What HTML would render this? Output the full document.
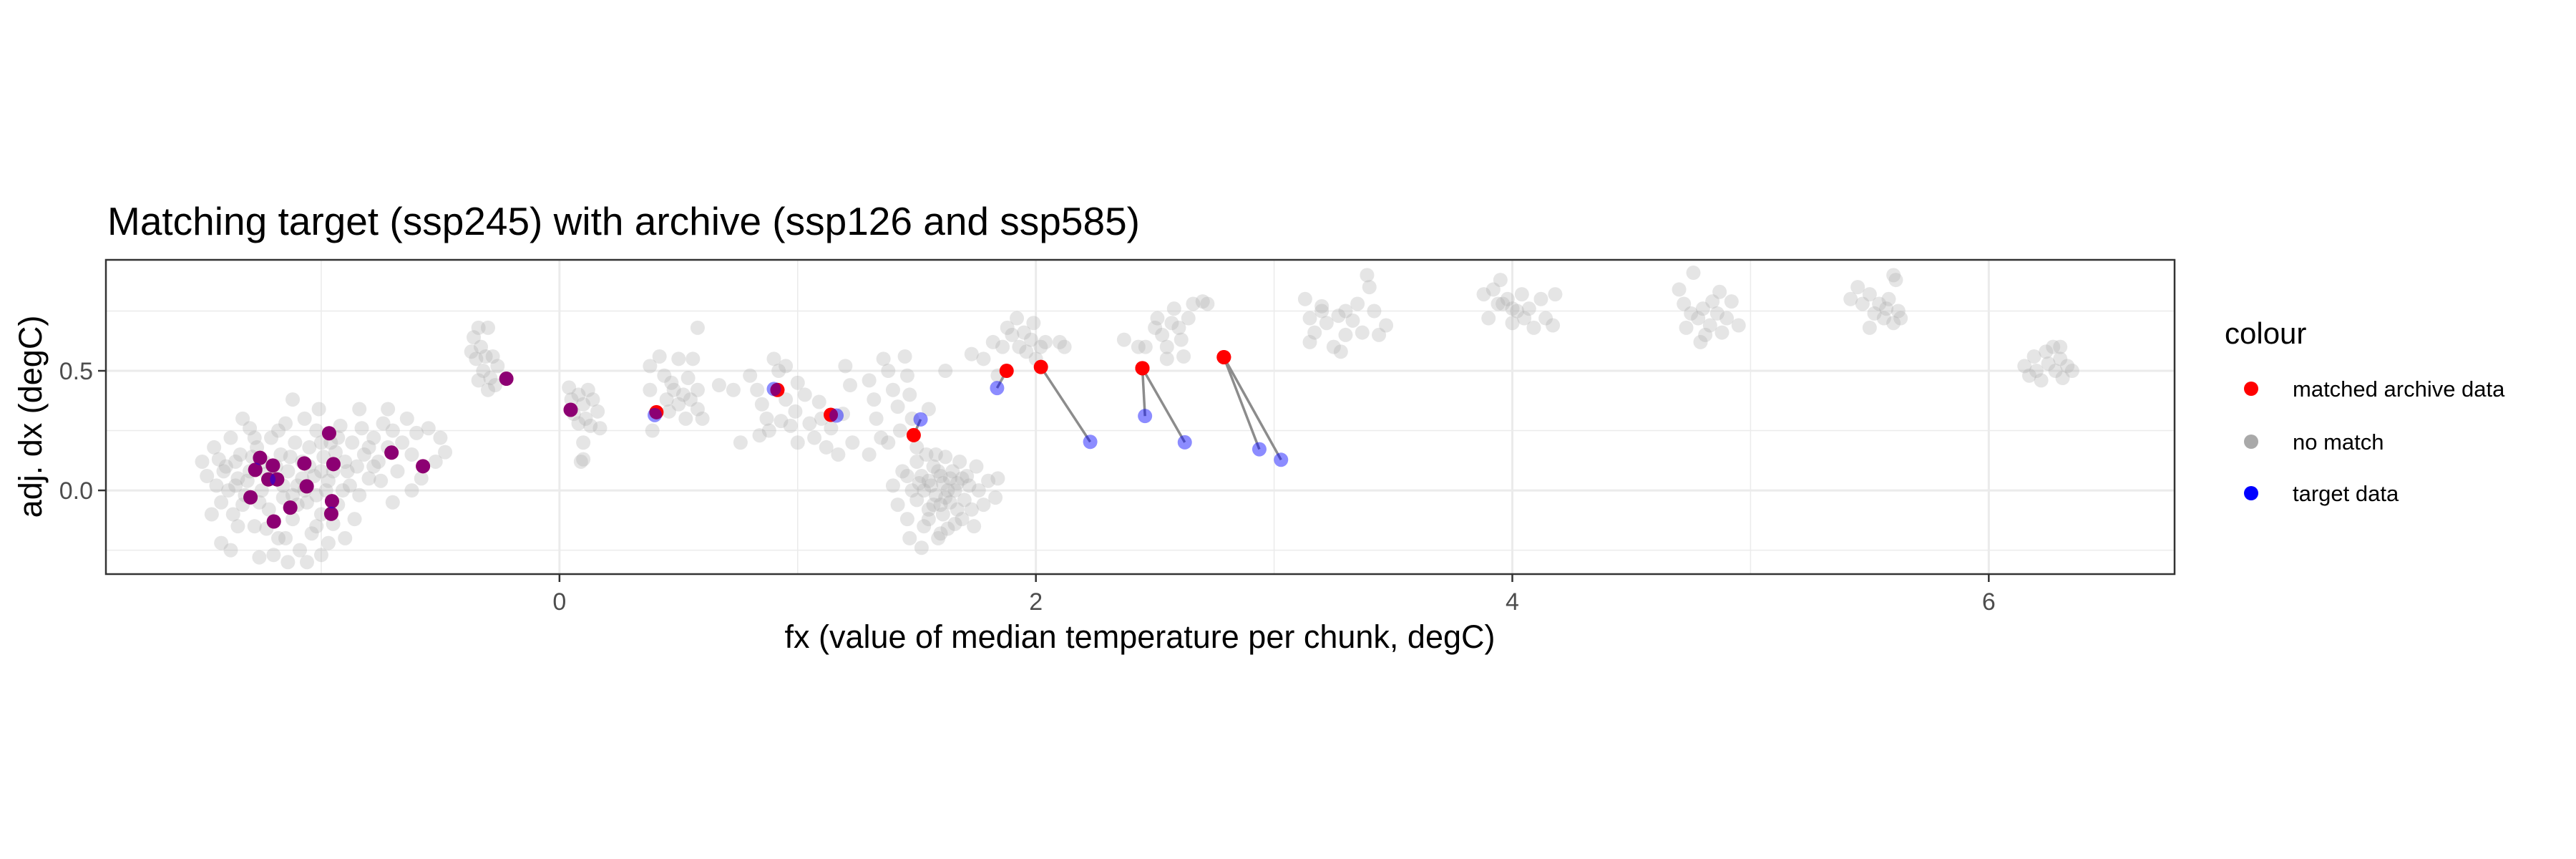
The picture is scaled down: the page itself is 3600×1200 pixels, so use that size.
<!DOCTYPE html>
<html><head><meta charset="utf-8"><style>
html,body{margin:0;padding:0;background:#fff;}
svg{display:block;font-family:"Liberation Sans",Arial,sans-serif;}
</style></head><body>
<svg id="chart" width="3600" height="1200" viewBox="0 0 3600 1200">
<rect width="3600" height="1200" fill="#fff"/>
<text x="150" y="328" font-size="55" fill="#000">Matching target (ssp245) with archive (ssp126 and ssp585)</text>
<g id="grid"></g>
<g id="links"></g>
<g id="points"></g>
<rect x="148" y="363" width="2891" height="439" fill="none" stroke="#333" stroke-width="2.5"/>
<g id="axes"></g>
<text x="1593" y="905" font-size="45" text-anchor="middle" fill="#000">fx (value of median temperature per chunk, degC)</text>
<text transform="translate(58,582) rotate(-90)" font-size="45" text-anchor="middle" fill="#000">adj. dx (degC)</text>
<g id="legend">
<text x="3109" y="480" font-size="42" fill="#000">colour</text>
</g>
</svg>
<script>
const xTicks=[0,2,4,6];
const xMinor=[-1,1,3,5];
const yTicks=[0.0,0.5];
const yMinor=[-0.25,0.25,0.75];
const xTickLabels=["0","2","4","6"];
const yTickLabels=["0.0","0.5"];
const legendLabels=["matched archive data","no match","target data"];
const archiveX=[-1.257,-1.277,-1.203,-1.071,-0.949,-0.967,-1.222,-1.185,-1.061,-1.297,-1.130,-0.955,-0.958,-1.199,-0.705,-0.573,-0.223,0.047,0.407,0.915,1.139,1.487,1.877,2.021,2.447,2.447,2.789,2.789];
const archiveY=[0.136,0.086,0.104,0.113,0.110,0.239,0.046,0.046,0.017,-0.029,-0.072,-0.045,-0.098,-0.130,0.158,0.101,0.467,0.337,0.327,0.420,0.316,0.231,0.500,0.516,0.511,0.511,0.557,0.557];
const targetX=[-1.257,-1.277,-1.203,-1.071,-0.949,-0.967,-1.222,-1.185,-1.061,-1.297,-1.130,-0.955,-0.958,-1.199,-0.705,-0.573,-0.223,0.047,0.400,0.900,1.163,1.516,1.837,2.228,2.458,2.625,2.938,3.029];
const targetY=[0.136,0.086,0.104,0.113,0.110,0.239,0.046,0.046,0.017,-0.029,-0.072,-0.045,-0.098,-0.130,0.158,0.101,0.467,0.337,0.315,0.424,0.313,0.297,0.428,0.203,0.311,0.201,0.172,0.128];
const grayPoints=[
[-1.5,0.12],[-1.48,0.06],[-1.45,0.18],[-1.44,0.02],[-1.42,-0.05],[-1.4,0.1],[-1.38,0.22],[-1.37,-0.1],[-1.35,0.05],[-1.34,0.15],[-1.32,-0.02],[-1.3,0.26],[-1.3,0.08],[-1.28,-0.15],[-1.27,0.18],[-1.25,0.0],[-1.24,0.12],[-1.22,-0.08],[-1.21,0.22],[-1.2,0.05],[-1.18,-0.2],[-1.17,0.15],[-1.16,-0.03],[-1.15,0.28],[-1.14,0.08],[-1.12,-0.12],[-1.11,0.2],[-1.1,0.02],[-1.09,-0.25],[-1.08,0.12],[-1.07,0.3],[-1.06,-0.05],[-1.05,0.18],[-1.04,-0.18],[-1.03,0.06],[-1.02,0.25],[-1.0,-0.1],[-0.99,0.14],[-0.98,0.0],[-0.97,-0.22],[-0.96,0.2],[-0.95,0.08],[-0.93,-0.06],[-0.92,0.27],[-0.9,0.12],[-0.88,0.02],[-0.87,0.2],[-0.85,0.1],[-0.83,0.26],[-0.82,0.15],[-0.8,0.05],[-0.78,0.22],[-0.76,0.12],[-0.74,0.28],[-0.72,0.18],[-0.7,0.25],[-0.68,0.08],[-0.66,0.2],[-0.64,0.3],[-0.62,0.15],[-0.6,0.24],[-0.58,0.05],[-0.55,0.26],[-0.52,0.12],[-0.5,0.22],[-0.48,0.16],[-1.42,-0.22],[-1.38,-0.25],[-1.26,-0.28],[-1.2,-0.27],[-1.14,-0.3],[-1.06,-0.3],[-1.0,-0.27],[-1.12,0.38],[-0.86,-0.12],[-0.84,-0.02],[-0.9,-0.2],[-1.33,0.3],[-1.46,-0.1],[-0.75,0.04],[-0.62,0.0],[-0.7,-0.05],[-1.01,0.34],[-0.84,0.34],[-0.72,0.34],
[-1.41,0.08],[-1.39,0.0],[-1.36,0.12],[-1.33,-0.06],[-1.31,0.04],[-1.29,0.14],[-1.26,-0.05],[-1.23,0.07],[-1.19,0.1],[-1.16,0.02],[-1.13,0.14],[-1.1,-0.06],[-1.08,0.05],[-1.05,0.1],[-1.02,-0.02],[-1.0,0.08],[-0.97,0.04],[-0.94,0.16],[-0.91,0.0],[-0.89,0.08],[-1.35,-0.15],[-1.23,-0.16],[-1.15,-0.2],[-1.02,-0.15],[-0.95,-0.14],[-1.28,0.22],[-1.18,0.25],[-1.0,0.2],[-0.8,0.18],[-0.78,0.1],[-1.43,0.13],[-1.36,0.02],[-1.12,-0.02],[-1.07,0.0],[-0.93,0.22],
[-0.36,0.64],[-0.34,0.68],[-0.3,0.68],[-0.33,0.6],[-0.31,0.56],[-0.28,0.56],[-0.35,0.55],[-0.32,0.5],[-0.29,0.47],[-0.34,0.46],[-0.27,0.44],[-0.3,0.42],[-0.26,0.52],[-0.37,0.58],
[0.04,0.43],[0.08,0.4],[0.12,0.42],[0.1,0.36],[0.14,0.38],[0.06,0.32],[0.11,0.3],[0.16,0.33],[0.08,0.28],[0.13,0.27],[0.17,0.26],[0.1,0.2],[0.1,0.13],[0.09,0.12],[0.05,0.38],
[0.38,0.52],[0.38,0.42],[0.39,0.25],[0.42,0.56],[0.44,0.48],[0.45,0.38],[0.46,0.33],[0.48,0.42],[0.5,0.55],[0.5,0.36],[0.52,0.4],[0.53,0.3],[0.54,0.47],[0.55,0.38],[0.56,0.55],[0.58,0.34],[0.58,0.42],[0.6,0.3],[0.58,0.68],[0.47,0.45],
[0.67,0.44],[0.73,0.42],[0.8,0.48],[0.83,0.42],[0.85,0.36],[0.87,0.3],[0.88,0.25],[0.9,0.55],[0.92,0.5],[0.95,0.38],[0.97,0.27],[0.99,0.33],[1.0,0.45],[1.03,0.4],[1.05,0.28],[1.07,0.22],[1.1,0.3],[1.12,0.18],[1.14,0.26],[1.17,0.15],[1.19,0.32],[1.22,0.44],[1.23,0.2],[1.2,0.52],[0.76,0.2],[0.84,0.23],[1.0,0.2],[0.95,0.52],[1.09,0.37],[0.93,0.29],
[1.3,0.46],[1.32,0.38],[1.33,0.3],[1.35,0.22],[1.36,0.55],[1.38,0.5],[1.4,0.42],[1.42,0.35],[1.43,0.25],[1.45,0.56],[1.46,0.48],[1.47,0.4],[1.48,0.3],[1.5,0.18],[1.3,0.15],[1.38,0.2],[1.62,0.5],[1.55,0.34],
[1.4,0.02],[1.42,-0.06],[1.44,0.08],[1.46,-0.12],[1.48,0.0],[1.5,0.12],[1.5,-0.04],[1.52,0.06],[1.53,-0.15],[1.54,0.15],[1.55,-0.08],[1.56,0.02],[1.57,0.1],[1.58,-0.02],[1.59,-0.2],[1.6,0.06],[1.61,-0.1],[1.62,0.14],[1.63,0.0],[1.64,-0.05],[1.65,0.08],[1.66,-0.14],[1.67,0.03],[1.68,0.12],[1.7,-0.04],[1.71,0.06],[1.73,-0.08],[1.75,0.1],[1.76,0.0],[1.78,-0.06],[1.8,0.04],[1.83,-0.03],[1.84,0.05],[1.47,-0.2],[1.52,-0.24],[1.6,-0.18],[1.46,0.06],[1.58,0.15],[1.63,-0.16],[1.69,-0.12],[1.74,-0.15],[1.55,0.04],[1.61,0.03],[1.66,0.0],[1.72,0.02],
[1.53,0.0],[1.57,-0.06],[1.59,0.08],[1.62,-0.03],[1.64,0.05],[1.67,-0.08],[1.55,-0.12],[1.6,-0.06],[1.69,0.05],[1.51,0.03],
[1.78,0.55],[1.82,0.62],[1.86,0.6],[1.88,0.68],[1.9,0.65],[1.92,0.72],[1.93,0.6],[1.95,0.66],[1.96,0.58],[1.98,0.63],[2.0,0.55],[2.02,0.6],[2.04,0.62],[2.1,0.62],[2.12,0.6],[1.99,0.7],[1.84,0.48],[1.73,0.57],
[2.37,0.63],[2.43,0.6],[2.46,0.6],[2.5,0.68],[2.51,0.72],[2.53,0.65],[2.55,0.6],[2.57,0.7],[2.58,0.76],[2.6,0.68],[2.61,0.63],[2.62,0.56],[2.66,0.78],[2.7,0.79],[2.72,0.78],[2.55,0.55],[2.64,0.72],
[3.13,0.8],[3.15,0.72],[3.15,0.62],[3.17,0.66],[3.2,0.75],[3.22,0.7],[3.25,0.6],[3.27,0.73],[3.3,0.75],[3.3,0.65],[3.33,0.71],[3.35,0.78],[3.37,0.66],[3.39,0.9],[3.4,0.85],[3.42,0.75],[3.44,0.65],[3.47,0.69],[3.28,0.58],[3.2,0.77],
[3.88,0.82],[3.9,0.72],[3.92,0.84],[3.95,0.88],[3.96,0.78],[3.98,0.8],[4.0,0.76],[4.02,0.75],[4.04,0.82],[4.05,0.72],[4.07,0.76],[4.09,0.68],[4.12,0.8],[4.14,0.72],[4.17,0.69],[4.18,0.82],[4.0,0.7],[3.94,0.78],
[4.7,0.84],[4.72,0.78],[4.73,0.68],[4.75,0.74],[4.76,0.91],[4.78,0.72],[4.8,0.76],[4.81,0.65],[4.83,0.69],[4.84,0.79],[4.86,0.74],[4.87,0.83],[4.88,0.66],[4.9,0.72],[4.92,0.79],[4.95,0.69],[4.79,0.62],
[5.42,0.8],[5.45,0.85],[5.47,0.78],[5.5,0.82],[5.52,0.74],[5.54,0.78],[5.56,0.72],[5.57,0.76],[5.58,0.8],[5.6,0.7],[5.62,0.75],[5.63,0.72],[5.6,0.9],[5.61,0.88],[5.5,0.68],
[6.15,0.52],[6.17,0.48],[6.19,0.56],[6.2,0.5],[6.22,0.46],[6.24,0.58],[6.25,0.53],[6.27,0.6],[6.28,0.5],[6.3,0.55],[6.31,0.47],[6.33,0.52],[6.35,0.5],[6.3,0.6]
];

const NS="http://www.w3.org/2000/svg";
const P={l:148,r:3039,t:363,b:802};
const X0=-1.904,X1=6.78,Y0=-0.35,Y1=0.964;
function sx(v){return P.l+(v-X0)/(X1-X0)*(P.r-P.l);}
function sy(v){return P.b-(v-Y0)/(Y1-Y0)*(P.b-P.t);}
function mk(tag,attrs,parent){const e=document.createElementNS(NS,tag);for(const k in attrs)e.setAttribute(k,attrs[k]);parent.appendChild(e);return e;}
const grid=document.getElementById('grid'),axes=document.getElementById('axes'),links=document.getElementById('links'),pts=document.getElementById('points'),legend=document.getElementById('legend');

xMinor.forEach(v=>{const e=mk('line',{x1:sx(v),x2:sx(v),y1:P.t,y2:P.b,stroke:'#ebebeb','stroke-width':1.5},grid);

});
yMinor.forEach(v=>{const e=mk('line',{x1:P.l,x2:P.r,y1:sy(v),y2:sy(v),stroke:'#ebebeb','stroke-width':1.5},grid);

});
xTicks.forEach((v,i)=>{const e=mk('line',{x1:sx(v),x2:sx(v),y1:P.t,y2:P.b,stroke:'#ebebeb','stroke-width':3},grid);


const t=mk('line',{x1:sx(v),x2:sx(v),y1:P.b,y2:P.b+11,stroke:'#333','stroke-width':2.5},axes);


const l=mk('text',{x:sx(v),y:852,'font-size':34,'text-anchor':'middle',fill:'#4d4d4d'},axes);l.textContent=xTickLabels[i];

});
yTicks.forEach((v,i)=>{const e=mk('line',{x1:P.l,x2:P.r,y1:sy(v),y2:sy(v),stroke:'#ebebeb','stroke-width':3},grid);


const t=mk('line',{x1:P.l-11,x2:P.l,y1:sy(v),y2:sy(v),stroke:'#333','stroke-width':2.5},axes);


const l=mk('text',{x:P.l-18,y:sy(v)+12,'font-size':34,'text-anchor':'end',fill:'#4d4d4d'},axes);l.textContent=yTickLabels[i];

});

grayPoints.forEach(p=>{const c=mk('circle',{cx:sx(p[0]),cy:sy(p[1]),r:10,fill:'#a9a9a9','fill-opacity':0.3},pts);

});
archiveX.forEach((v,i)=>{const ln=mk('line',{x1:sx(targetX[i]),y1:sy(targetY[i]),x2:sx(v),y2:sy(archiveY[i]),stroke:'#8c8c8c','stroke-width':3.5},links);

});
archiveX.forEach((v,i)=>{const c=mk('circle',{cx:sx(v),cy:sy(archiveY[i]),r:10,fill:'#ff0000'},pts);

});
targetX.forEach((v,i)=>{const c=mk('circle',{cx:sx(v),cy:sy(targetY[i]),r:10,fill:'#0000ff','fill-opacity':0.45},pts);

});

const legCols=['#ff0000','#a9a9a9','#0000ff'];
const legY=[543,617,689];
legendLabels.forEach((s,i)=>{const c=mk('circle',{cx:3146,cy:legY[i],r:10,fill:legCols[i]},legend);


const t=mk('text',{x:3204,y:legY[i]+11,'font-size':31,fill:'#000'},legend);t.textContent=s;

});
</script>
</body></html>
